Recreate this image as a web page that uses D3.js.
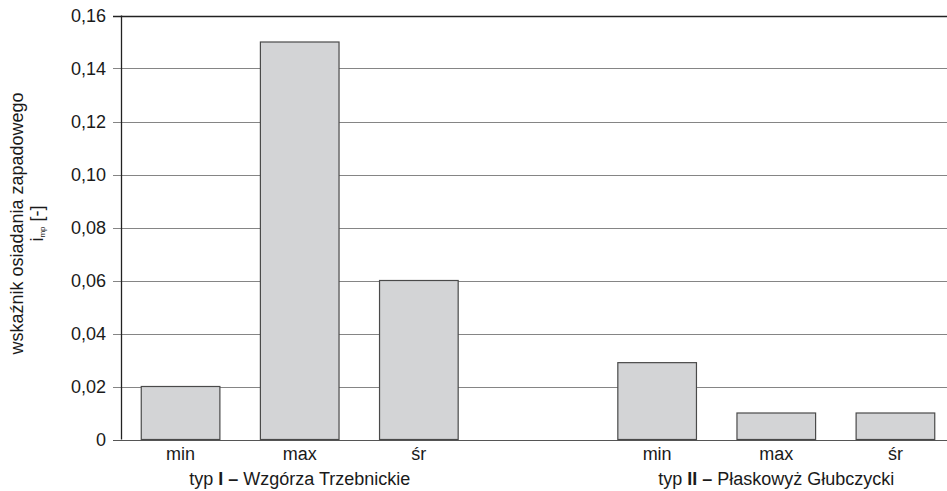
<!DOCTYPE html>
<html>
<head>
<meta charset="utf-8">
<script src="https://cdn.jsdelivr.net/npm/d3@7/dist/d3.min.js"></script>
<style>
  html, body { margin: 0; padding: 0; background: #fff; }
  text { font-family: "Liberation Sans", Arial, sans-serif; fill: #1a1a1a; }
</style>
</head>
<body>
<svg id="chart" width="947" height="491"></svg>
<script>
// ---- data ----
const statLabels = ["min", "max", "śr"];
const groupNames = ["typ I", "typ II"];
const groupTitles = ["Wzgórza Trzebnickie", "Płaskowyż Głubczycki"];
const valuesTypI = [0.02, 0.15, 0.06];
const valuesTypII = [0.029, 0.01, 0.01];
const yTicks = [0, 0.02, 0.04, 0.06, 0.08, 0.10, 0.12, 0.14, 0.16];
const yTickLabels = ["0", "0,02", "0,04", "0,06", "0,08", "0,10", "0,12", "0,14", "0,16"];

// slots: 3 bars, a gap, 3 bars
const slots = [
  ...statLabels.map((s, i) => ({ key: "I-" + s, label: s, value: valuesTypI[i], group: 0 })),
  { key: "gap", label: "", value: null, group: -1 },
  ...statLabels.map((s, i) => ({ key: "II-" + s, label: s, value: valuesTypII[i], group: 1 }))
];

const svg = d3.select("#chart");
const pL = 121, pR = 955, pT = 15.5, pB = 439.5;

const x = d3.scaleBand()
  .domain(slots.map(d => d.key))
  .range([pL, pR])
  .paddingInner(0.34)
  .paddingOuter(0.17);

const y = d3.scaleLinear().domain([0, 0.16]).range([pB, pT]);

// gridlines + ticks
svg.append("g").selectAll("line")
  .data(yTicks)
  .join("line")
  .attr("x1", pL - 8)
  .attr("x2", 947)
  .attr("y1", d => Math.round(y(d)) + 0.5)
  .attr("y2", d => Math.round(y(d)) + 0.5)
  .attr("stroke", (d, i) => i === yTicks.length - 1 ? "#222" : (i === 0 ? "#555" : "#858585"))
  .attr("stroke-width", (d, i) => i === yTicks.length - 1 ? 1.6 : 1.1);

// tick labels
svg.append("g").selectAll("text")
  .data(yTicks)
  .join("text")
  .attr("x", 106)
  .attr("y", d => y(d))
  .attr("dy", "0.35em")
  .attr("text-anchor", "end")
  .attr("font-size", 18)
  .text((d, i) => yTickLabels[i]);

// bars
svg.append("g").selectAll("rect")
  .data(slots.filter(d => d.value !== null))
  .join("rect")
  .attr("x", d => x(d.key))
  .attr("width", x.bandwidth())
  .attr("y", d => y(d.value))
  .attr("height", d => y(0) - y(d.value))
  .attr("fill", "#d3d4d6")
  .attr("stroke", "#4a4a4a")
  .attr("stroke-width", 1.2);

// left axis line
svg.append("line")
  .attr("x1", pL + 0.5).attr("x2", pL + 0.5)
  .attr("y1", y(0.16)).attr("y2", y(0))
  .attr("stroke", "#222").attr("stroke-width", 1.3);

// category labels
svg.append("g").selectAll("text")
  .data(slots.filter(d => d.value !== null))
  .join("text")
  .attr("x", d => x(d.key) + x.bandwidth() / 2)
  .attr("y", 460)
  .attr("text-anchor", "middle")
  .attr("font-size", 18)
  .text(d => d.label);

// group labels centered under middle bar of each group
groupNames.forEach((g, gi) => {
  const midKey = (gi === 0 ? "I-" : "II-") + statLabels[1];
  const t = svg.append("text")
    .attr("x", x(midKey) + x.bandwidth() / 2)
    .attr("y", 485)
    .attr("text-anchor", "middle")
    .attr("font-size", 18);
  const parts = g.split(" ");
  t.append("tspan").text(parts[0] + " ");
  t.append("tspan").attr("font-weight", "bold").text(parts[1]);
  t.append("tspan").text(" ");
  t.append("tspan").attr("font-weight", "bold").text("–");
  t.append("tspan").text(" " + groupTitles[gi]);
});

// y-axis title
const cy = (pT + pB) / 2 - 4;
svg.append("text")
  .attr("transform", `translate(23,${cy}) rotate(-90)`)
  .attr("text-anchor", "middle")
  .attr("font-size", 18)
  .text("wskaźnik osiadania zapadowego");
const t2 = svg.append("text")
  .attr("transform", `translate(43,${cy}) rotate(-90)`)
  .attr("text-anchor", "middle")
  .attr("font-size", 18);
t2.append("tspan").text("i");
t2.append("tspan").attr("font-size", 8).attr("dy", 2).text("mp");
t2.append("tspan").attr("dy", -2).text(" [-]");
</script>
</body>
</html>
